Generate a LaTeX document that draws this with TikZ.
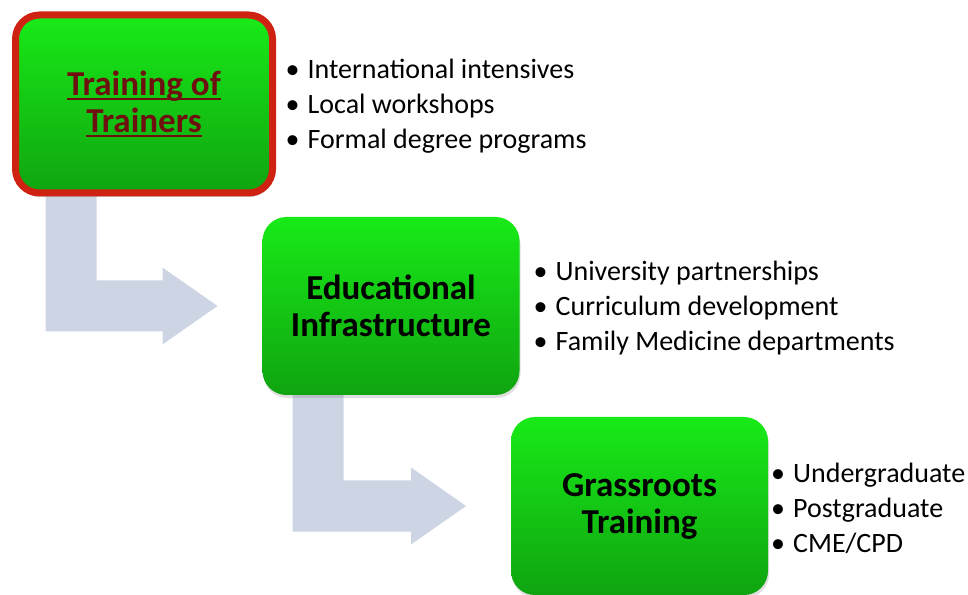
\documentclass[tikz,border=0pt]{standalone}
\usepackage{fontspec}
\setmainfont{Carlito}
\usetikzlibrary{positioning,calc,backgrounds,shadows}
\definecolor{BoxTop}{RGB}{24,234,24}
\definecolor{BoxBottom}{RGB}{16,164,16}
\definecolor{FrameRed}{RGB}{206,34,18}
\definecolor{TitleRed}{RGB}{110,16,16}
\definecolor{FlowGrey}{RGB}{205,213,228}
\tikzset{
  stagebox/.style={rounded corners=24pt,top color=BoxTop,bottom color=BoxBottom,
                   minimum width=257pt,minimum height=178pt,inner sep=0pt,outer sep=0pt,
                   align=center,font=\fontsize{35}{37}\selectfont\bfseries,
                   drop shadow={opacity=0.25,shadow xshift=1pt,shadow yshift=-3pt}},
  blist/.style={inner sep=0pt,align=left,font=\fontsize{28}{35}\selectfont},
  flow/.style={fill=FlowGrey},
}
% underline kept at a fixed depth under the baseline
\newcommand{\ulword}[1]{\setbox0\hbox{#1}\rlap{\rule[-5pt]{\wd0}{1.8pt}}\box0}
% bullet with the wider gap before the item text
\newcommand{\itm}{\textbullet\hspace{8pt}}
% bent block arrow from the bottom of one box to the left side of the next
\newcommand{\bentarrow}[2]{%
  \fill[flow] let \p1=(#1.south west), \p2=(#2.west) in
    (\x1+30pt,\y1+10pt) -- (\x1+30pt,\y2-25.5pt) -- (\x2-100pt,\y2-25.5pt)
    -- (\x2-100pt,\y2-38.5pt) -- (\x2-45pt,\y2) -- (\x2-100pt,\y2+38.5pt)
    -- (\x2-100pt,\y2+25.5pt) -- (\x1+81pt,\y2+25.5pt) -- (\x1+81pt,\y1+10pt) -- cycle;}

\begin{document}
\begin{tikzpicture}[x=1pt,y=1pt]
    \useasboundingbox (0,0) rectangle (968,594);

    % Stages
    \node[stagebox, draw=FrameRed, line width=7pt, text=TitleRed,
          drop shadow={opacity=0.35,shadow xshift=1pt,shadow yshift=-4pt}]
          (tot) at (144,490) {\ulword{Training of}\\\ulword{Trainers}};
    \node[stagebox] (edu) at (391,288) {Educational\\Infrastructure};
    \node[stagebox] (grs) at (639.5,88) {Grassroots\\Training};

    % Bullet lists
    \node[blist, right=13pt of tot, yshift=-2pt] (totlist) {\itm International intensives\\
        \itm Local workshops\\\itm Formal degree programs};
    \node[blist, right=14pt of edu, yshift=-2pt] (edulist) {\itm University partnerships\\
        \itm Curriculum development\\\itm Family Medicine departments};
    \node[blist, right=3pt of grs, yshift=-2pt] (grslist) {\itm Undergraduate\\
        \itm Postgraduate\\\itm CME/CPD};

    % Flow arrows
    \begin{scope}[on background layer]
        \bentarrow{tot}{edu}
        \bentarrow{edu}{grs}
    \end{scope}
\end{tikzpicture}
\end{document}
